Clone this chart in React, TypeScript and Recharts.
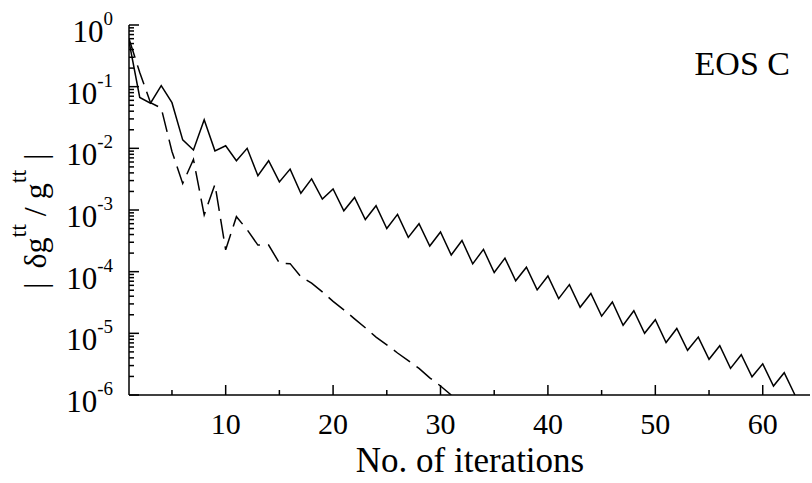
import { LineChart, Line, XAxis, YAxis } from "recharts";

const iterations = [
  1, 2, 3, 4, 5, 6, 7, 8, 9, 10, 11, 12, 13, 14, 15, 16, 17, 18, 19, 20, 21,
  22, 23, 24, 25, 26, 27, 28, 29, 30, 31, 32, 33, 34, 35, 36, 37, 38, 39, 40,
  41, 42, 43, 44, 45, 46, 47, 48, 49, 50, 51, 52, 53, 54, 55, 56, 57, 58, 59,
  60, 61, 62, 63,
];

// solid curve
const solidValues = [
  0.54, 0.067, 0.054, 0.104, 0.055, 0.0137, 0.0094, 0.029, 0.0091, 0.011,
  0.0063, 0.01, 0.0036, 0.0063, 0.00285, 0.0046, 0.00187, 0.0032, 0.0015,
  0.0022, 0.00097, 0.0016, 0.0007, 0.00117, 0.0005, 0.00085, 0.00036, 0.0006,
  0.00026, 0.00044, 0.000186, 0.00032, 0.000134, 0.00023, 0.000097, 0.000166,
  0.000071, 0.000118, 0.0000507, 0.000085, 0.0000366, 0.0000616, 0.0000265,
  0.0000442, 0.000019, 0.0000322, 0.0000135, 0.0000232, 0.00001, 0.0000166,
  0.0000071, 0.000012, 0.0000053, 0.0000087, 0.0000038, 0.0000063, 0.0000027,
  0.0000045, 0.00000197, 0.0000032, 0.0000014, 0.0000023, 0.000001,
];

// dashed curve (stops at iteration 31)
const dashedValues = [
  0.6, 0.17, 0.055, 0.045, 0.0089, 0.0027, 0.0066, 0.00083, 0.0026, 0.000226,
  0.00078, 0.00048, 0.00027, 0.00027, 0.000138, 0.000135, 0.000083, 0.000065,
  0.000047, 0.000033, 0.000024, 0.0000172, 0.0000123, 0.0000087, 0.0000065,
  0.0000048, 0.0000036, 0.0000027, 0.0000019, 0.0000014, 0.000001,
];

const xTicks = [5, 10, 15, 20, 25, 30, 35, 40, 45, 50, 55, 60];
const yMajorTicks = [1e-6, 1e-5, 1e-4, 1e-3, 1e-2, 1e-1, 1];
const minorSteps = [2, 3, 4, 5, 6, 7, 8, 9];

const data = iterations.map((it, i) => ({
  it,
  solid: solidValues[i],
  dashed: i < dashedValues.length ? dashedValues[i] : undefined,
}));

const yTicks = [
  ...yMajorTicks,
  ...yMajorTicks.slice(0, -1).flatMap((d) => minorSteps.map((k) => k * d)),
].sort((a, b) => a - b);

const FONT = "'Liberation Serif', 'Times New Roman', serif";
const MAJOR = 10;
const MINOR = 5;

const isMajor = (v: number) =>
  Math.abs(Math.log10(v) - Math.round(Math.log10(v))) < 1e-6;

const LeftTick = (props: any) => {
  const { x, y, payload } = props;
  const v = payload.value;
  const major = isMajor(v);
  return (
    <g>
      <line x1={x} x2={x + (major ? MAJOR : MINOR)} y1={y} y2={y} stroke="#000" strokeWidth={1.5} />
      {major && (
        <text x={x - 16} y={y + 17} textAnchor="end" fontFamily={FONT} fontSize={31} fill="#000">
          10
          <tspan dy={-17} fontSize={19}>
            {Math.round(Math.log10(v))}
          </tspan>
        </text>
      )}
    </g>
  );
};

const RightTick = (props: any) => {
  const { x, y, payload } = props;
  const major = isMajor(payload.value);
  return <line x1={x - (major ? MAJOR : MINOR)} x2={x} y1={y} y2={y} stroke="#000" strokeWidth={1.5} />;
};

const BottomTick = (props: any) => {
  const { x, y, payload } = props;
  const major = payload.value % 10 === 0;
  return (
    <g>
      <line x1={x} x2={x} y1={y} y2={y - (major ? MAJOR : MINOR)} stroke="#000" strokeWidth={1.5} />
      {major && (
        <text x={x} y={y + 39} textAnchor="middle" fontFamily={FONT} fontSize={30} fill="#000">
          {payload.value}
        </text>
      )}
    </g>
  );
};

const TopTick = (props: any) => {
  const { x, y, payload } = props;
  const major = payload.value % 10 === 0;
  return <line x1={x} x2={x} y1={y} y2={y + (major ? MAJOR : MINOR)} stroke="#000" strokeWidth={1.5} />;
};

export default function App() {
  return (
    <div style={{ position: "absolute", left: 0, top: 0, width: 812, height: 483, background: "#fff" }}>
      <LineChart width={812} height={483} data={data} margin={{ top: 25, right: 2, bottom: 0, left: 0 }}>
        <XAxis
          xAxisId="b"
          dataKey="it"
          type="number"
          domain={[1, 64.4]}
          allowDataOverflow
          ticks={xTicks}
          interval={0}
          height={88}
          tickSize={0}
          tickMargin={0}
          tickLine={false}
          tick={<BottomTick />}
          axisLine={{ stroke: "#000", strokeWidth: 1.5 }}
        />
        <XAxis
          xAxisId="t"
          orientation="top"
          dataKey="it"
          type="number"
          domain={[1, 64.4]}
          allowDataOverflow
          ticks={xTicks}
          interval={0}
          height={0}
          tickSize={0}
          tickMargin={0}
          tickLine={false}
          tick={<TopTick />}
          axisLine={{ stroke: "#000", strokeWidth: 1.5 }}
        />
        <YAxis
          yAxisId="l"
          type="number"
          scale="log"
          domain={[1e-6, 1]}
          allowDataOverflow
          ticks={yTicks}
          interval={0}
          width={129}
          tickSize={0}
          tickMargin={0}
          tickLine={false}
          tick={<LeftTick />}
          axisLine={{ stroke: "#000", strokeWidth: 1.5 }}
        />
        <YAxis
          yAxisId="r"
          orientation="right"
          type="number"
          scale="log"
          domain={[1e-6, 1]}
          allowDataOverflow
          ticks={yTicks}
          interval={0}
          width={0}
          tickSize={0}
          tickMargin={0}
          tickLine={false}
          tick={<RightTick />}
          axisLine={{ stroke: "#000", strokeWidth: 1.5 }}
        />
        <Line
          xAxisId="b"
          yAxisId="l"
          dataKey="solid"
          stroke="#000"
          strokeWidth={1.5}
          dot={false}
          isAnimationActive={false}
        />
        <Line
          xAxisId="b"
          yAxisId="l"
          dataKey="dashed"
          stroke="#000"
          strokeWidth={1.5}
          strokeDasharray="20 8"
          dot={false}
          isAnimationActive={false}
        />
      </LineChart>
      <svg
        width={812}
        height={483}
        style={{ position: "absolute", left: 0, top: 0, pointerEvents: "none" }}
      >
        <text x={790} y={75} textAnchor="end" fontFamily={FONT} fontSize={34} fill="#000">
          EOS C
        </text>
        <text x={470} y={472} textAnchor="middle" fontFamily={FONT} fontSize={35} fill="#000">
          No. of iterations
        </text>
        <text transform="rotate(-90)" x={-289} y={46} fontFamily={FONT} fontSize={32} fill="#000">
          |
          <tspan dx={14}>δg</tspan>
          <tspan dy={-20} fontSize={24}>tt</tspan>
          <tspan dy={20} dx={8}>/</tspan>
          <tspan dx={8}>g</tspan>
          <tspan dy={-20} fontSize={24}>tt</tspan>
          <tspan dy={20} dx={10}>|</tspan>
        </text>
      </svg>
    </div>
  );
}
